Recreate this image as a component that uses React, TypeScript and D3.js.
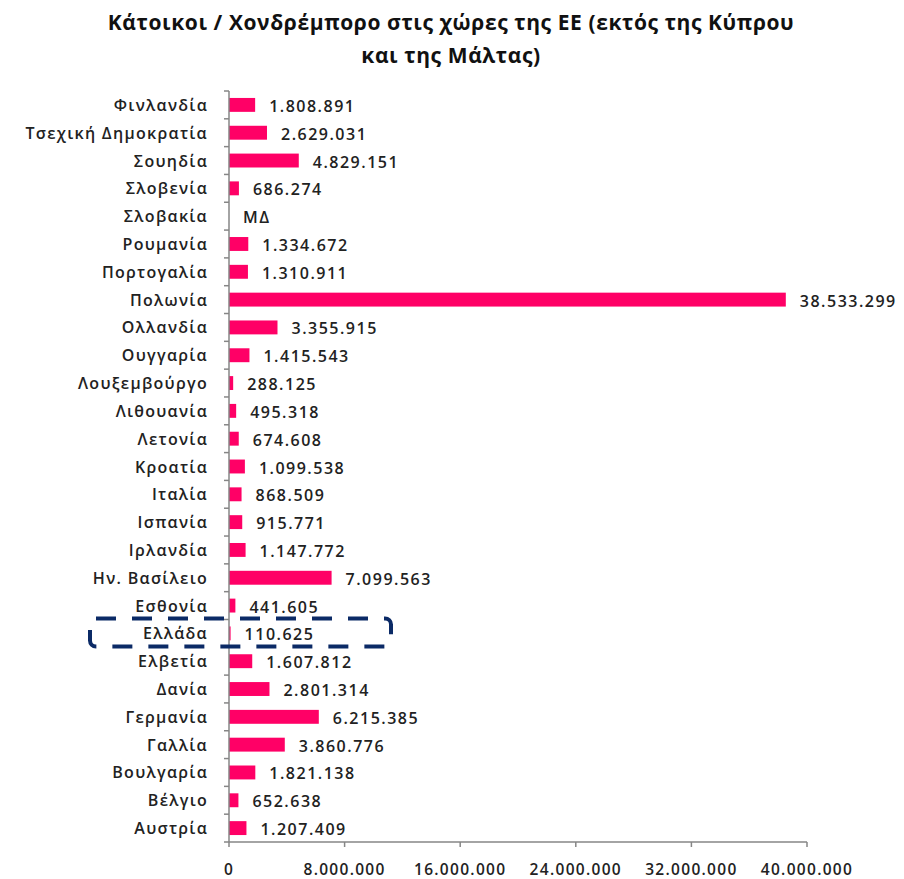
import React from "react";
import * as d3 from "d3";

const categories = [
  "Φινλανδία", "Τσεχική Δημοκρατία", "Σουηδία", "Σλοβενία", "Σλοβακία", "Ρουμανία",
  "Πορτογαλία", "Πολωνία", "Ολλανδία", "Ουγγαρία", "Λουξεμβούργο", "Λιθουανία",
  "Λετονία", "Κροατία", "Ιταλία", "Ισπανία", "Ιρλανδία", "Ην. Βασίλειο", "Εσθονία",
  "Ελλάδα", "Ελβετία", "Δανία", "Γερμανία", "Γαλλία", "Βουλγαρία", "Βέλγιο", "Αυστρία",
];
const values: (number | null)[] = [
  1808891, 2629031, 4829151, 686274, null, 1334672,
  1310911, 38533299, 3355915, 1415543, 288125, 495318,
  674608, 1099538, 868509, 915771, 1147772, 7099563, 441605,
  110625, 1607812, 2801314, 6215385, 3860776, 1821138, 652638, 1207409,
];
const xTicks = [0, 8000000, 16000000, 24000000, 32000000, 40000000];
const titleLines = [
  "Κάτοικοι / Χονδρέμπορο στις χώρες της ΕΕ (εκτός της Κύπρου",
  "και της Μάλτας)",
];
const highlight = "Ελλάδα";
const missingLabel = "ΜΔ";

const fmt = (v: number) => d3.format(",")(v).replace(/,/g, ".");

export default function App() {
  const W = 904, H = 879;
  const left = 229, right = 807, top = 91, bottom = 842;
  const x = d3.scaleLinear().domain([0, 40000000]).range([left, right]);
  const y = d3.scaleBand().domain(categories).range([top, bottom]).paddingInner(0.5).paddingOuter(0.25);
  const yb = d3.scaleBand().domain(categories).range([top, bottom]);
  const font = "'Open Sans', sans-serif";
  const gray = "#868686";
  const hy = yb(highlight)!;
  return (
    <svg width={W} height={H} style={{ position: "absolute", left: 0, top: 0 }} fontFamily={font}>
      {titleLines.map((t, i) => (
        <text key={i} x={451} y={30 + i * 33} textAnchor="middle" fontSize={21} fontWeight={700}
          fill="#111" letterSpacing={0.6}>{t}</text>
      ))}
      {categories.map((c, i) => {
        const v = values[i];
        const yc = y(c)! + y.bandwidth() / 2;
        return (
          <g key={c}>
            {v != null && (
              <rect x={x(0)} y={y(c)} width={x(v) - x(0)} height={y.bandwidth()} fill="#FF0066" />
            )}
            <text x={208} y={yc + 6} textAnchor="end" fontSize={16} fontWeight={600} fill="#222" letterSpacing={1.3}>{c}</text>
            <text x={(v != null ? x(v) : x(0)) + 14} y={yc + 7} fontSize={16} fontWeight={600} fill="#222" letterSpacing={1.5}>
              {v != null ? fmt(v) : missingLabel}
            </text>
          </g>
        );
      })}
      <line x1={left} x2={left} y1={top} y2={bottom} stroke={gray} strokeWidth={1.5} />
      {categories.map((c) => (
        <line key={c} x1={left - 5} x2={left} y1={yb(c)} y2={yb(c)} stroke={gray} strokeWidth={1.5} />
      ))}
      <line x1={left - 5} x2={left} y1={bottom} y2={bottom} stroke={gray} strokeWidth={1.5} />
      <line x1={left} x2={right} y1={bottom} y2={bottom} stroke={gray} strokeWidth={1.5} />
      {xTicks.map((t) => (
        <g key={t}>
          <line x1={x(t)} x2={x(t)} y1={bottom} y2={bottom + 5} stroke={gray} strokeWidth={1.5} />
          <text x={x(t)} y={bottom + 33} textAnchor="middle" fontSize={15.5} fontWeight={600} fill="#222" letterSpacing={1.3}>
            {fmt(t)}
          </text>
        </g>
      ))}
      <rect x={90} y={hy - 1} width={301} height={28} rx={6} fill="none" stroke="#0B2A66"
        strokeWidth={4} strokeDasharray="20 16" />
    </svg>
  );
}
